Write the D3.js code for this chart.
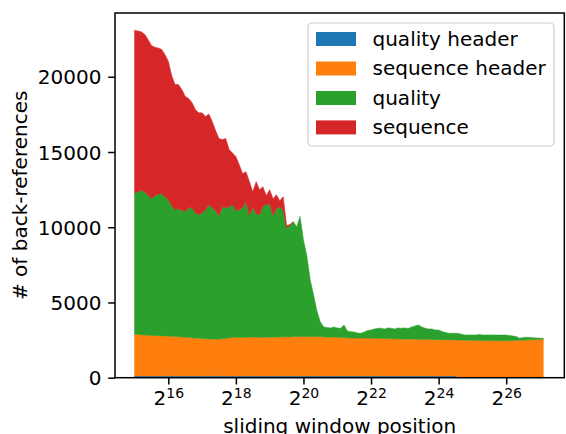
<!DOCTYPE html>
<html><head><meta charset="utf-8">
<script src="https://cdn.jsdelivr.net/npm/d3@7"></script>
<style>
body{margin:0;background:#fff}
svg{display:block}
text{font-family:"DejaVu Sans",sans-serif;fill:#000}
</style>
</head><body>
<svg id="chart" width="566" height="434"></svg>
<script>
// ---------------- data ----------------
const seriesNames = ["quality header", "sequence header", "quality", "sequence"];
const seriesColors = ["#1f77b4", "#ff7f0e", "#2ca02c", "#d62728"];
// sample positions: log2 of the sliding window position (2^15 ... 2^27.1, step 0.1)
const log2Positions = d3.range(122).map(i => 15 + i / 10);

const qualityHeader = [
  120,118,122,121,119,120,117,121,123,120, 119,122,118,120,121,117,120,122,119,121,
  120,118,121,123,119,120,122,118,120,121, 119,117,121,120,122,118,120,119,121,120,
  118,122,120,119,121,117,120,122,118,121, 120,119,122,118,120,121,119,120,117,121,
  122,120,118,121,119,120,122,118,120,121, 119,120,118,122,121,119,120,117,121,120,
  122,118,120,119,121,120,118,122,119,120, 121,118,120,119,122,120,
  0,0,0,0,0,0,0,0,0,0, 0,0,0,0,0,0,0,0,0,0, 0,0,0,0,0,0
];
const sequenceHeader = [
  2770,2750,2736,2723,2710,2683,2690,2670,2656,2670,
  2643,2623,2636,2603,2590,2570,2550,2530,2510,2503,
  2490,2477,2457,2443,2437,2450,2470,2497,2523,2550,
  2563,2550,2570,2556,2576,2563,2583,2556,2570,2576,
  2563,2590,2570,2596,2583,2603,2590,2616,2596,2610,
  2616,2596,2623,2603,2610,2610,2590,2576,2570,2583,
  2563,2550,2556,2530,2510,2523,2510,2517,2503,2523,
  2523,2503,2497,2483,2490,2470,2477,2457,2463,2450,
  2437,2443,2450,2437,2430,2437,2423,2430,2417,2410,
  2403,2410,2397,2390,2397,2390,
  2503,2497,2490,2490,2477,2483,2470,2477,2463,2470,
  2463,2463,2457,2463,2457,2463,2470,2477,2490,2497,
  2510,2517,2530,2537,2550,2557
];
const quality = [
  9387,9494,9594,9488,9334,9095,9288,9408,9455,9241,
  9068,8689,8409,8509,8422,8362,8629,8649,8336,8210,
  8356,8568,8921,8736,8542,8196,8775,8682,8722,8828,
  8416,8495,8609,9022,8070,8682,8196,8157,8695,8802,
  8882,8056,8542,8649,8396,7244,7390,7630,7318,7989,
  6432,5387,3762,2783,1711,979,666,646,619,673,
  626,619,833,459,433,400,346,319,420,500,
  533,619,672,686,632,719,692,665,726,719,
  752,713,806,885,959,819,746,692,705,646,
  653,546,492,446,439,446,440,379,353,353,
  366,360,406,366,380,373,380,380,373,380,
  386,347,306,253,133,180,180,160,127,106,
  73,66
];
const sequence = [
  10806,10686,10533,10486,10320,10187,9873,9720,9587,9454,
  9208,8655,8323,8256,8023,7657,7257,6991,6857,6771,
  6638,6192,6026,5726,5326,5127,4461,4594,3795,3429,
  3595,2996,2263,1997,2264,999,2131,1664,1312,600,
  932,1132,932,400,932,150,80,
  0,0,0,0,0,0,0,0,0,0, 0,0,0,0,0,0,0,0,0,0,
  0,0,0,0,0,0,0,0,0,0, 0,0,0,0,0,0,0,0,0,0,
  0,0,0,0,0,0,0,0,0,0, 0,0,0,0,0,0,0,0,0,0,
  0,0,0,0,0,0,0,0,0,0, 0,0,0,0,0
];
const xTickExponents = [16, 18, 20, 22, 24, 26];
const yTickValues = [0, 5000, 10000, 15000, 20000];

// ---------------- layout ----------------
const FS = 20;
const margin = {left: 115, top: 13, right: 564.3, bottom: 377.7};
const svg = d3.select("#chart");

const table = log2Positions.map((e, i) => ({
  pos: Math.pow(2, e),
  "quality header": qualityHeader[i],
  "sequence header": sequenceHeader[i],
  "quality": quality[i],
  "sequence": sequence[i]
}));

const stacked = d3.stack().keys(seriesNames)(table);
const maxTotal = d3.max(stacked[stacked.length - 1], d => d[1]);

const x = d3.scaleLog().base(2)
  .domain([Math.pow(2, 14.422), Math.pow(2, 27.72)])
  .range([margin.left, margin.right]);
const y = d3.scaleLinear()
  .domain([0, maxTotal * 1.05])
  .range([margin.bottom, margin.top]);

stacked.forEach((layer, k) => {
  const thick = i => i >= 0 && i < layer.length && layer[i][1] - layer[i][0] > 0;
  const area = d3.area()
    .defined((d, i) => thick(i) || thick(i - 1) || thick(i + 1))
    .x(d => x(d.data.pos))
    .y0(d => y(d[0]))
    .y1(d => y(d[1]));
  svg.append("path")
    .attr("d", area(layer))
    .attr("fill", seriesColors[k])
    .attr("stroke", seriesColors[k])
    .attr("stroke-width", 0.5)
    .attr("stroke-linejoin", "round");
});

// axes
const tickLen = 6.8, tickPad = 6.8;
const xAxis = d3.axisBottom(x)
  .tickValues(xTickExponents.map(e => Math.pow(2, e)))
  .tickFormat("")
  .tickSizeInner(tickLen).tickSizeOuter(0);
const gx = svg.append("g").attr("transform", `translate(0,${margin.bottom})`).call(xAxis);
gx.select(".domain").remove();
gx.selectAll(".tick line").attr("stroke", "#000").attr("stroke-width", 1.5);
gx.selectAll(".tick").each(function(v) {
  const t = d3.select(this).select("text")
    .attr("y", 27.3).attr("dy", null)
    .attr("text-anchor", "middle")
    .style("font-size", FS + "px")
    .style("font-family", '"DejaVu Sans", sans-serif')
    .attr("fill", "#000");
  t.text(null);
  t.append("tspan").text("2");
  t.append("tspan").attr("dy", -6.7).style("font-size", "14px").text(Math.round(Math.log2(v)));
});

const yAxis = d3.axisLeft(y)
  .tickValues(yTickValues)
  .tickFormat(d3.format("d"))
  .tickSizeInner(tickLen).tickSizeOuter(0).tickPadding(tickPad);
const gy = svg.append("g").attr("transform", `translate(${margin.left},0)`).call(yAxis);
gy.select(".domain").remove();
gy.selectAll(".tick line").attr("stroke", "#000").attr("stroke-width", 1.5);
gy.selectAll(".tick text")
  .attr("dy", "0.36em")
  .style("font-size", FS + "px")
  .style("font-family", '"DejaVu Sans", sans-serif')
  .attr("fill", "#000");

// spines
svg.append("rect")
  .attr("x", margin.left).attr("y", margin.top)
  .attr("width", margin.right - margin.left).attr("height", margin.bottom - margin.top)
  .attr("fill", "none").attr("stroke", "#000").attr("stroke-width", 1.5);

// labels
svg.append("text")
  .attr("x", (margin.left + margin.right) / 2).attr("y", 432.5)
  .attr("text-anchor", "middle").style("font-size", FS + "px")
  .text("sliding window position");
svg.append("text")
  .attr("transform", `translate(27,${(margin.top + margin.bottom) / 2}) rotate(-90)`)
  .attr("text-anchor", "middle").style("font-size", FS + "px")
  .text("# of back-references");

// legend
const lg = svg.append("g");
lg.append("rect")
  .attr("x", 308).attr("y", 23).attr("width", 246).attr("height", 123)
  .attr("rx", 4).attr("fill", "#fff").attr("fill-opacity", 0.8)
  .attr("stroke", "#cccccc").attr("stroke-width", 1.2);
const rowY = [39, 68.5, 98, 127.4];
seriesNames.forEach((name, i) => {
  lg.append("rect").attr("x", 316).attr("y", rowY[i] - 7).attr("width", 40).attr("height", 14)
    .attr("fill", seriesColors[i]);
  lg.append("text").attr("x", 372.5).attr("y", rowY[i] + 6.7)
    .style("font-size", FS + "px").text(name);
});
</script>
</body></html>
